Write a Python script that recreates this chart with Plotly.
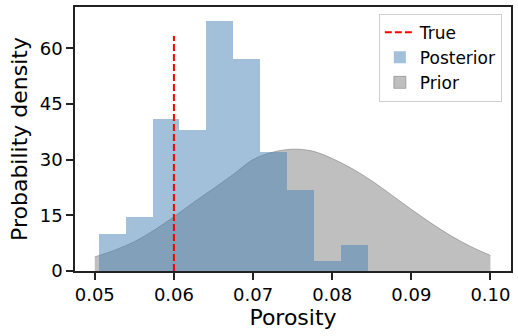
import plotly.graph_objects as go

# ---- data ----
bin_edges = [0.0505, 0.0539, 0.0573, 0.0607, 0.0641, 0.0675, 0.0709, 0.0743, 0.0777, 0.0811, 0.0845]
posterior_density = [10.0, 14.5, 41.0, 38.1, 67.4, 57.1, 32.1, 21.9, 2.8, 7.1]

prior_x = [0.050, 0.0525, 0.055, 0.0575, 0.060, 0.0625, 0.065, 0.0675, 0.070, 0.0725, 0.075,
           0.0775, 0.080, 0.0825, 0.085, 0.0875, 0.090, 0.0925, 0.095, 0.0975, 0.100]
prior_y = [3.8, 5.6, 7.9, 11.0, 14.6, 18.5, 22.2, 26.0, 30.0, 32.0, 32.8,
           32.3, 30.3, 27.6, 24.3, 20.5, 16.6, 12.9, 9.5, 6.6, 4.2]

true_value = 0.06
true_line_top = 63.3

x_ticks = [0.05, 0.06, 0.07, 0.08, 0.09, 0.10]
x_tick_labels = ["0.05", "0.06", "0.07", "0.08", "0.09", "0.10"]
y_ticks = [0, 15, 30, 45, 60]

X_RANGE = [0.0475, 0.1026]
Y_RANGE = [0, 71.1]

centers = [(a + b) / 2 for a, b in zip(bin_edges[:-1], bin_edges[1:])]
widths = [b - a for a, b in zip(bin_edges[:-1], bin_edges[1:])]

FONT = "DejaVu Sans"
PRIOR_FILL = "rgba(128,128,128,0.5)"
PRIOR_EDGE = "rgba(128,128,128,0.6)"

fig = go.Figure()

# prior on the base axes (drawn underneath)
fig.add_trace(go.Scatter(
    x=prior_x, y=prior_y, mode="lines", name="Prior",
    line=dict(color=PRIOR_EDGE, width=1, shape="spline"),
    fill="tozeroy", fillcolor=PRIOR_FILL,
    showlegend=False, xaxis="x", yaxis="y",
))
# legend entry for the prior as a rectangular patch
fig.add_trace(go.Bar(
    x=[None], y=[None], name="Prior",
    marker=dict(color=PRIOR_FILL, line=dict(color=PRIOR_EDGE, width=1)),
    legendrank=3, xaxis="x", yaxis="y",
))

# posterior histogram on the overlaying axes (drawn above the prior)
fig.add_trace(go.Bar(
    x=centers, y=posterior_density, width=widths, name="Posterior",
    marker=dict(color="rgba(70,130,180,0.5)", line=dict(width=0)),
    legendrank=2, xaxis="x2", yaxis="y2",
))

fig.add_trace(go.Scatter(
    x=[true_value, true_value], y=[0, true_line_top], mode="lines", name="True",
    line=dict(color="red", width=2, dash="7px,3px"),
    legendrank=1, xaxis="x2", yaxis="y2",
))

axis_common = dict(
    showline=True, mirror=True, linecolor="#222", linewidth=1.5,
    ticks="outside", ticklen=7, tickwidth=1.5, tickcolor="#222",
    showgrid=False, zeroline=False,
    tickfont=dict(family=FONT, size=18, color="black"),
)

fig.update_layout(
    width=518, height=336,
    margin=dict(l=75, r=6, t=5, b=65),
    paper_bgcolor="white", plot_bgcolor="white",
    font=dict(family=FONT, color="black"),
    barmode="overlay", bargap=0,
    showlegend=True,
    legend=dict(
        x=0.979, y=0.975, xanchor="right", yanchor="top",
        bgcolor="white", bordercolor="#d0d0d0", borderwidth=1,
        font=dict(family=FONT, size=17, color="black"),
    ),
    xaxis=dict(
        range=X_RANGE, tickvals=x_ticks, ticktext=x_tick_labels,
        title=dict(text="Porosity", font=dict(family=FONT, size=22), standoff=4),
        **axis_common,
    ),
    yaxis=dict(
        range=Y_RANGE, tickvals=y_ticks,
        title=dict(text="Probability density", font=dict(family=FONT, size=22), standoff=6),
        **axis_common,
    ),
    xaxis2=dict(range=X_RANGE, overlaying="x", visible=False),
    yaxis2=dict(range=Y_RANGE, overlaying="y", visible=False),
)

fig.write_html("out.html")
